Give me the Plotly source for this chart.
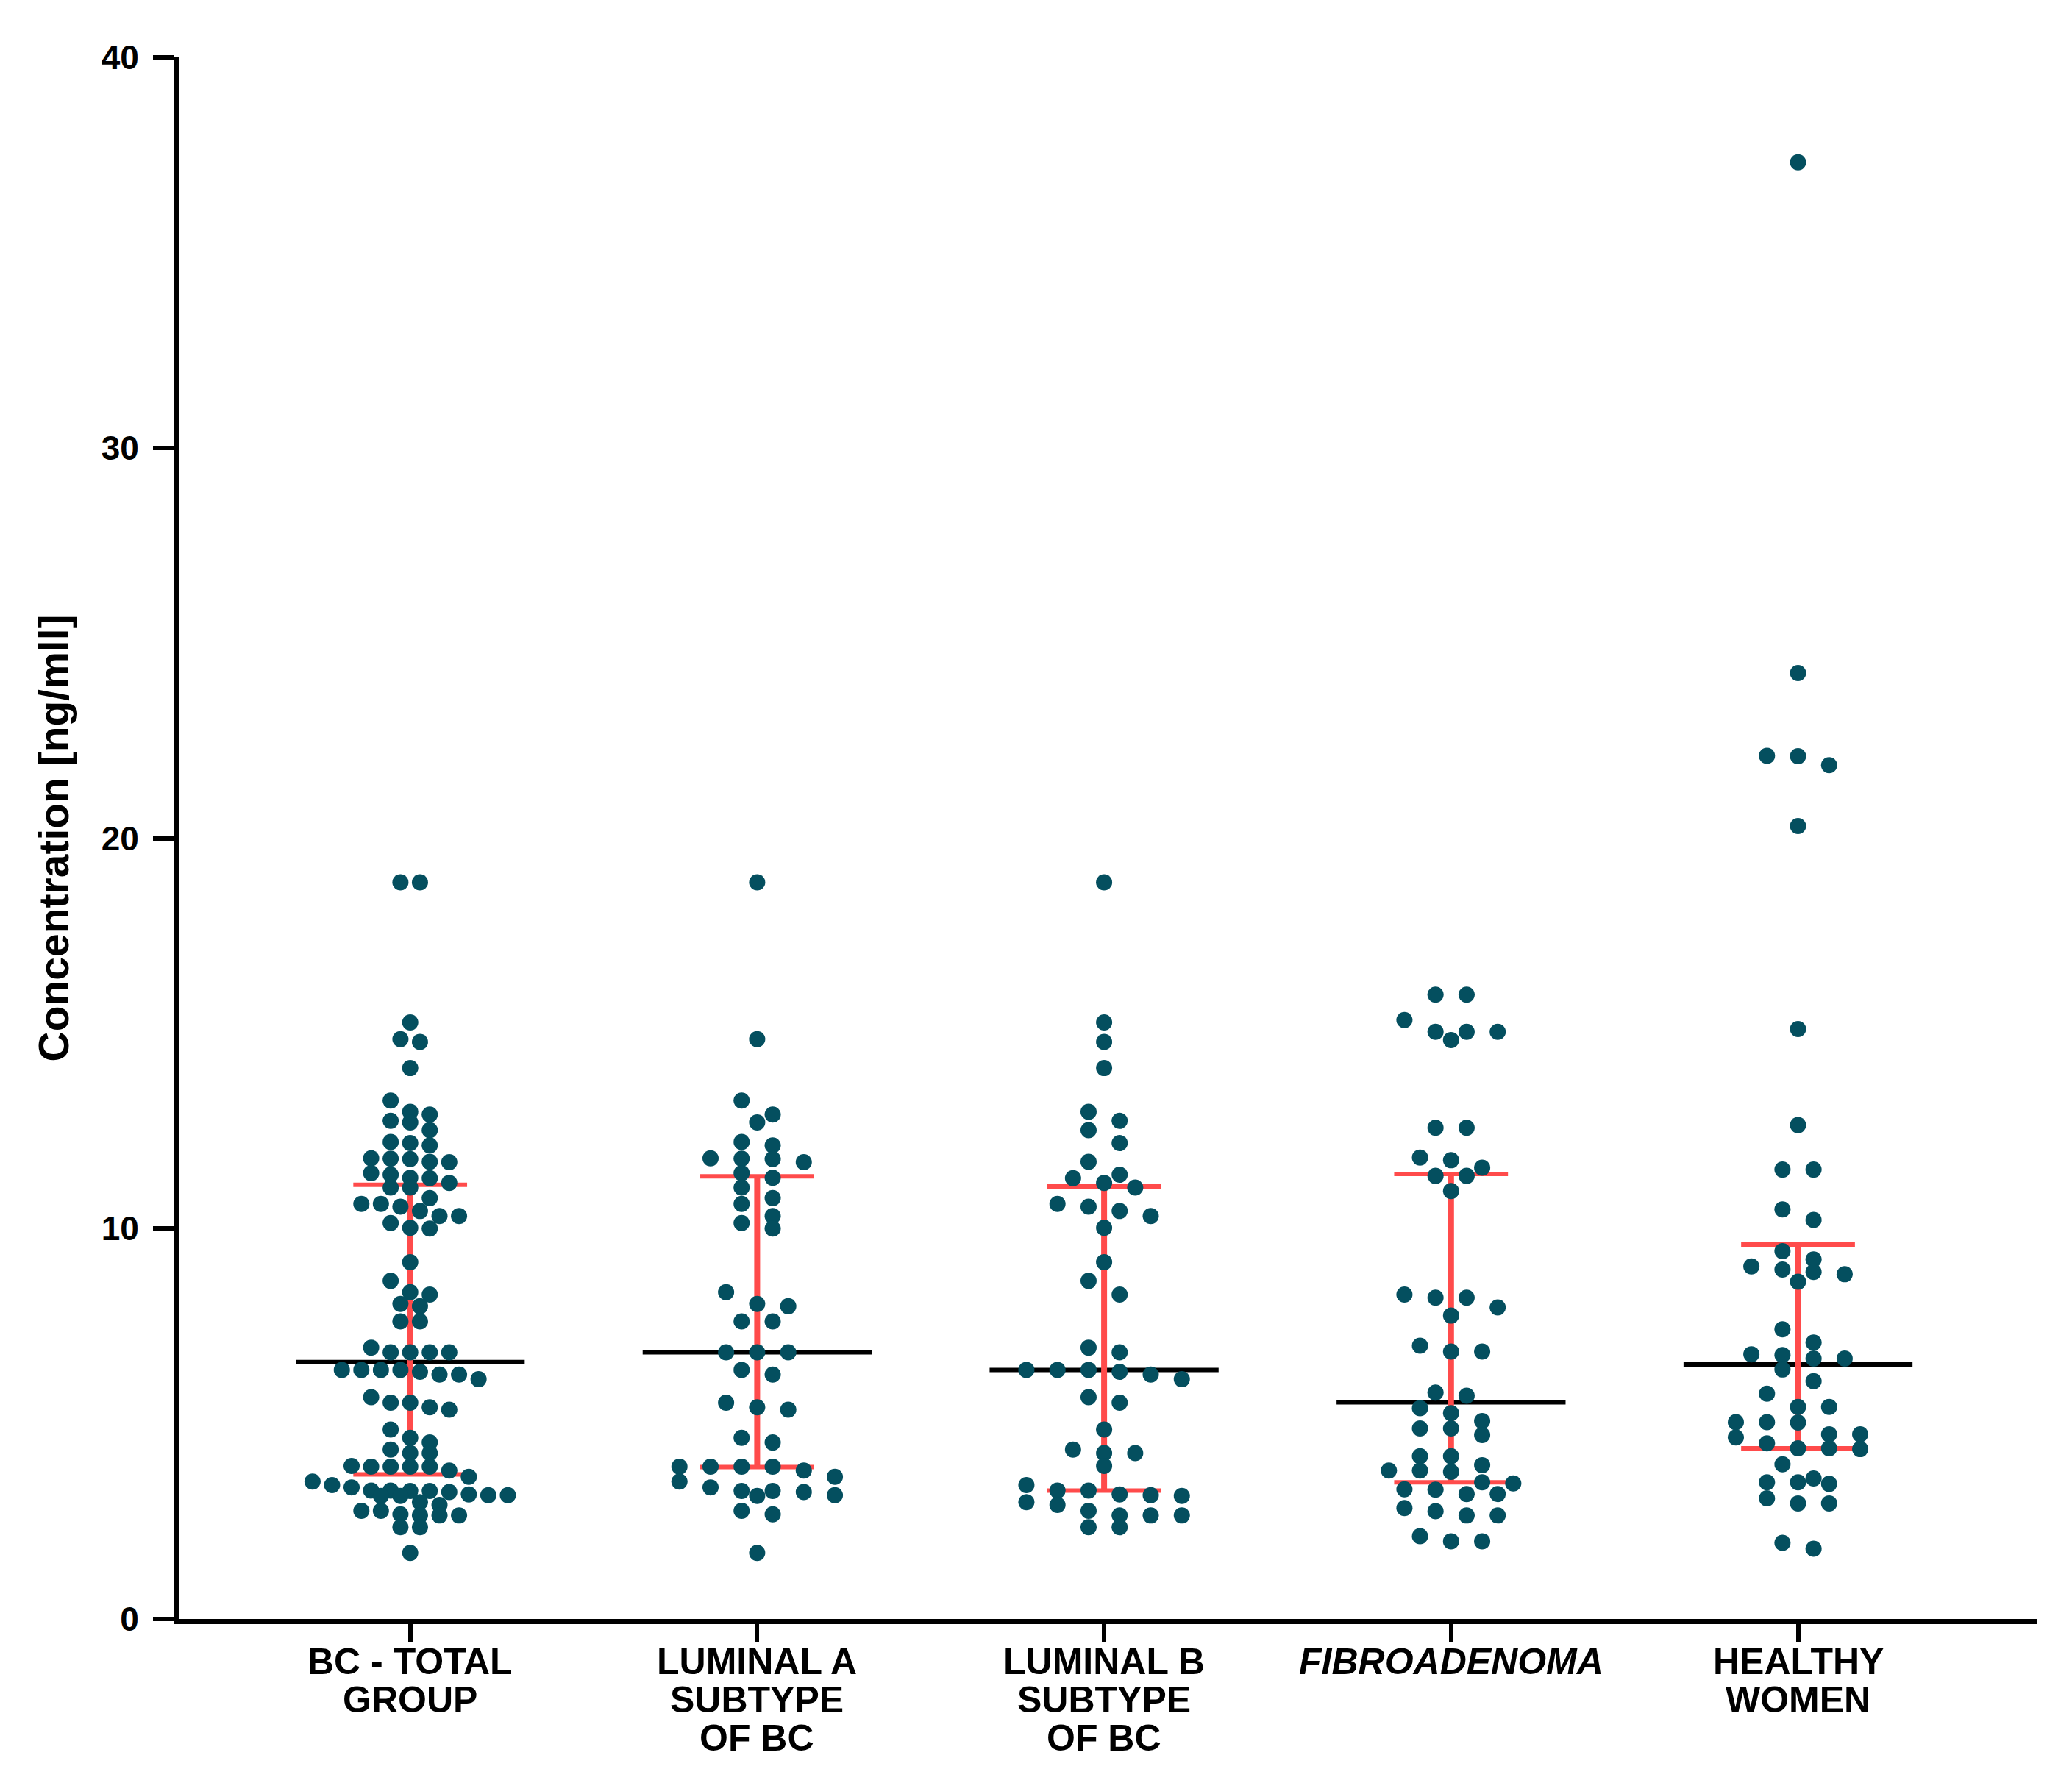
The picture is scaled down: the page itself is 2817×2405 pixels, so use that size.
import plotly.graph_objects as go

# ---------------- data ----------------
categories = ["BC - TOTAL<br>GROUP",
              "LUMINAL A<br>SUBTYPE<br>OF BC",
              "LUMINAL B<br>SUBTYPE<br>OF BC",
              "<i>FIBROADENOMA</i>",
              "HEALTHY<br>WOMEN"]

bc_total = [18.87, 18.87, 15.28, 14.85, 14.78, 14.11, 13.28, 12.99, 12.92, 12.76,
            12.72, 12.52, 12.22, 12.19, 12.13, 11.80, 11.79, 11.78, 11.71, 11.70,
            11.42, 11.38, 11.30, 11.29, 11.17, 11.05, 11.05, 10.78, 10.63, 10.63,
            10.56, 10.45, 10.32, 10.32, 10.14, 10.02, 10.00, 9.14, 8.66, 8.37,
            8.31, 8.07, 8.01, 7.62, 7.62, 6.95, 6.83, 6.83, 6.83, 6.83,
            6.38, 6.38, 6.38, 6.38, 6.33, 6.26, 6.26, 6.14, 5.68, 5.54,
            5.54, 5.42, 5.36, 4.85, 4.64, 4.52, 4.34, 4.25, 4.25, 3.92,
            3.90, 3.90, 3.90, 3.90, 3.80, 3.64, 3.52, 3.43, 3.37, 3.29,
            3.29, 3.28, 3.28, 3.25, 3.19, 3.17, 3.17, 3.15, 3.15, 2.99,
            2.92, 2.77, 2.77, 2.68, 2.65, 2.65, 2.65, 2.35, 2.35, 1.69]

luminal_a = [18.87, 14.85, 13.28, 12.92, 12.72, 12.22, 12.13, 11.80, 11.79, 11.78,
             11.70, 11.42, 11.30, 11.05, 10.78, 10.63, 10.32, 10.14, 10.00, 8.37,
             8.07, 8.01, 7.62, 7.62, 6.83, 6.83, 6.83, 6.38, 6.26, 5.54,
             5.42, 5.36, 4.64, 4.52, 3.90, 3.90, 3.90, 3.90, 3.80, 3.64,
             3.52, 3.37, 3.28, 3.28, 3.25, 3.17, 3.15, 2.77, 2.68, 1.69]

luminal_b = [18.87, 15.28, 14.78, 14.11, 12.99, 12.76, 12.52, 12.19, 11.71, 11.38,
             11.29, 11.17, 11.05, 10.63, 10.56, 10.45, 10.32, 10.02, 9.14, 8.66,
             8.31, 6.95, 6.83, 6.38, 6.38, 6.38, 6.33, 6.26, 6.14, 5.68,
             5.54, 4.85, 4.34, 4.25, 4.25, 3.92, 3.43, 3.29, 3.29, 3.19,
             3.17, 3.15, 2.99, 2.92, 2.77, 2.65, 2.65, 2.65, 2.35, 2.35]

fibroadenoma = [15.99, 15.99, 15.34, 15.04, 15.04, 15.04, 14.83, 12.58, 12.58, 11.82,
                11.75, 11.56, 11.35, 11.35, 10.96, 8.31, 8.23, 8.23, 7.98, 7.77,
                7.00, 6.85, 6.85, 5.80, 5.72, 5.40, 5.27, 5.07, 4.88, 4.88,
                4.71, 4.17, 4.17, 3.94, 3.80, 3.80, 3.77, 3.50, 3.47, 3.32,
                3.31, 3.20, 3.20, 2.84, 2.76, 2.65, 2.65, 2.12, 1.99, 1.99]

healthy = [37.31, 24.23, 22.11, 22.10, 21.87, 20.31, 15.11, 12.65, 11.51, 11.51,
           10.49, 10.22, 9.42, 9.21, 9.03, 8.95, 8.89, 8.83, 8.64, 7.42,
           7.08, 6.78, 6.76, 6.67, 6.67, 6.39, 6.09, 5.77, 5.43, 5.43,
           5.04, 5.04, 5.03, 4.73, 4.73, 4.65, 4.50, 4.37, 4.37, 4.35,
           3.96, 3.60, 3.50, 3.50, 3.46, 3.09, 2.96, 2.96, 1.95, 1.80]

medians = [6.58, 6.83, 6.38, 5.55, 6.52]
q1_vals = [3.70, 3.89, 3.29, 3.50, 4.37]
q3_vals = [11.12, 11.34, 11.08, 11.40, 9.59]

y_ticks = [0, 10, 20, 30, 40]

groups = [bc_total, luminal_a, luminal_b, fibroadenoma, healthy]

# ---------------- styles ----------------
DOT_COLOR = "#044F5F"
RED = "#FF4B4B"
FONT = "Liberation Sans, Arial, Helvetica, sans-serif"
DOT_STEP = [0.0563, 0.0896, 0.0896, 0.0896, 0.0896]   # horizontal dot spacing (x units)
ROW_BIN = 0.36                                         # value band that forms one row
MEDIAN_HALF = 0.33
CAP_HALF = 0.164
LABEL_SIZE = 50
LABEL_LINE = 52        # px between label lines
LABEL_TOP = 28         # px below the axis line to the top of the first label line


def swarm(vals, center, step, band):
    """Centre rows of similar values around the category position."""
    order = sorted(vals, reverse=True)
    xs, ys = [], []
    i = 0
    while i < len(order):
        j = i + 1
        while j < len(order) and order[i] - order[j] < band:
            j += 1
        row = order[i:j]
        n = len(row)
        for k, v in enumerate(row):
            xs.append(center + (k - (n - 1) / 2) * step)
            ys.append(v)
        i = j
    return xs, ys


fig = go.Figure()

# median and interquartile range (drawn beneath the dots)
for c in range(len(categories)):
    fig.add_trace(go.Scatter(x=[c - MEDIAN_HALF, c + MEDIAN_HALF], y=[medians[c], medians[c]],
                             mode="lines", line=dict(color="black", width=6),
                             hoverinfo="skip"))
    fig.add_trace(go.Scatter(x=[c, c], y=[q1_vals[c], q3_vals[c]],
                             mode="lines", line=dict(color=RED, width=8),
                             hoverinfo="skip"))
    for q in (q1_vals[c], q3_vals[c]):
        fig.add_trace(go.Scatter(x=[c - CAP_HALF, c + CAP_HALF], y=[q, q],
                                 mode="lines", line=dict(color=RED, width=6),
                                 hoverinfo="skip"))

# dots
for c, vals in enumerate(groups):
    xs, ys = swarm(vals, c, DOT_STEP[c], ROW_BIN)
    fig.add_trace(go.Scatter(x=xs, y=ys, mode="markers",
                             marker=dict(color=DOT_COLOR, size=22, line=dict(width=0)),
                             hoverinfo="y"))

# category labels, one annotation per line for tight line spacing
for c, lab in enumerate(categories):
    for i, line in enumerate(lab.split("<br>")):
        fig.add_annotation(x=c, xref="x", y=0, yref="paper",
                           yanchor="top", xanchor="center",
                           yshift=-(LABEL_TOP + i * LABEL_LINE),
                           text=line, showarrow=False,
                           font=dict(family=FONT, size=LABEL_SIZE, color="black", weight="bold"))

fig.update_layout(
    width=2817, height=2405,
    margin=dict(l=236, r=55, t=70, b=212),
    paper_bgcolor="white", plot_bgcolor="white",
    showlegend=False,
    font=dict(family=FONT, color="black"),
)

fig.update_xaxes(
    range=[-0.665, 4.69],
    tickmode="array", tickvals=list(range(len(categories))),
    showticklabels=False,
    ticks="outside", ticklen=24, tickwidth=6, tickcolor="black",
    showline=True, linewidth=7, linecolor="black",
    showgrid=False, zeroline=False,
)

fig.update_yaxes(
    range=[0, 40],
    tickmode="array", tickvals=y_ticks, ticktext=[str(t) for t in y_ticks],
    ticks="outside", ticklen=29, tickwidth=6, tickcolor="black",
    showline=True, linewidth=7, linecolor="black",
    showgrid=False, zeroline=False,
    tickfont=dict(family=FONT, size=46, color="black", weight="bold"),
    ticklabelstandoff=10,
    title=dict(text="Concentration [ng/mll]",
               font=dict(family=FONT, size=57, color="black", weight="bold"),
               standoff=28),
)

fig.write_html("out.html")
